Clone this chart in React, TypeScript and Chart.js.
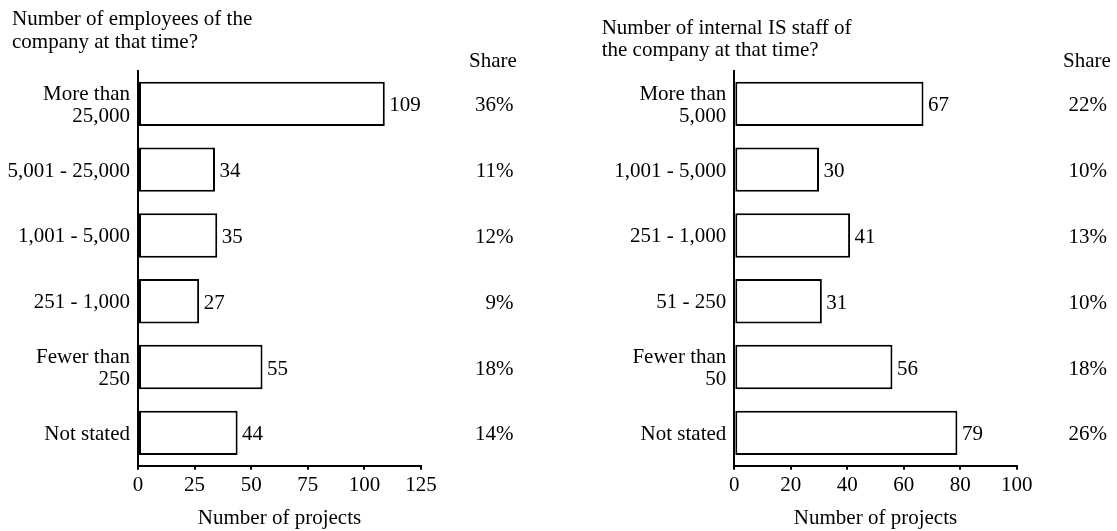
import React, { useEffect, useRef } from 'react';
import { Chart, registerables } from 'chart.js';

Chart.register(...registerables);

const FONT = '"Liberation Serif", "Times New Roman", Times, serif';
const FONT_SIZE = 21;

// Company size (employees)
const employeeTitle = ['Number of employees of the', 'company at that time?'];
const employeeCategories: (string | string[])[] = [
  ['More than', '25,000'],
  '5,001 - 25,000',
  '1,001 - 5,000',
  '251 - 1,000',
  ['Fewer than', '250'],
  'Not stated',
];
const employeeCounts = [109, 34, 35, 27, 55, 44];
const employeeShares = ['36%', '11%', '12%', '9%', '18%', '14%'];

// Internal IS staff
const staffTitle = ['Number of internal IS staff of', 'the company at that time?'];
const staffCategories: (string | string[])[] = [
  ['More than', '5,000'],
  '1,001 - 5,000',
  '251 - 1,000',
  '51 - 250',
  ['Fewer than', '50'],
  'Not stated',
];
const staffCounts = [67, 30, 41, 31, 56, 79];
const staffShares = ['22%', '10%', '13%', '10%', '18%', '26%'];

const shareHeader = 'Share';
const xAxisTitle = 'Number of projects';

const HEIGHT = 531;
const PLOT_TOP = 71;
const PLOT_BOTTOM = 465.7;

type PanelProps = {
  left: number;
  width: number;
  title: string[];
  titleX: number;
  titleY: number;
  categories: (string | string[])[];
  counts: number[];
  shares: string[];
  max: number;
  step: number;
  axisX: number;
  plotRight: number;
  shareRight: number;
  shareHeaderX: number;
};

function Panel(props: PanelProps) {
  const ref = useRef<HTMLCanvasElement | null>(null);

  useEffect(() => {
    const canvas = ref.current;
    if (!canvas) return;
    const font = { family: FONT, size: FONT_SIZE, lineHeight: 1.08 };

    const annotate = {
      id: 'annotate',
      afterDatasetsDraw(chart: Chart) {
        const ctx = chart.ctx;
        ctx.save();
        ctx.fillStyle = '#000';
        ctx.font = `${FONT_SIZE}px ${FONT}`;
        ctx.textBaseline = 'alphabetic';

        // question heading
        ctx.textAlign = 'left';
        props.title.forEach((line, i) => {
          ctx.fillText(line, props.titleX, props.titleY + i * 22.5);
        });

        // share column heading
        ctx.textAlign = 'center';
        ctx.fillText(shareHeader, props.shareHeaderX, 67);

        const meta = chart.getDatasetMeta(0);
        meta.data.forEach((bar: any, i: number) => {
          ctx.textAlign = 'left';
          ctx.fillText(String(props.counts[i]), bar.x + 4.5, bar.y + 7.5);
          ctx.textAlign = 'right';
          ctx.fillText(props.shares[i], props.shareRight, bar.y + 7.5);
        });
        ctx.restore();
      },
    };

    const chart = new Chart(canvas, {
      type: 'bar',
      data: {
        labels: props.categories,
        datasets: [
          {
            data: props.counts,
            backgroundColor: '#ffffff',
            borderColor: '#000000',
            borderWidth: 2,
            borderSkipped: false,
            categoryPercentage: 1,
            barPercentage: 0.674,
          },
        ],
      },
      options: {
        indexAxis: 'y',
        responsive: false,
        animation: false,
        events: [],
        layout: {
          padding: { left: 0, top: PLOT_TOP, right: props.width - props.plotRight, bottom: 0 },
        },
        plugins: {
          legend: { display: false },
          tooltip: { enabled: false },
          title: { display: false },
        },
        scales: {
          x: {
            type: 'linear',
            min: 0,
            max: props.max,
            ticks: {
              stepSize: props.step,
              color: '#000',
              font,
              padding: 4.5,
              maxRotation: 0,
              autoSkip: false,
            },
            grid: {
              drawOnChartArea: false,
              drawTicks: true,
              tickLength: 4,
              color: '#000',
              lineWidth: 2,
            },
            border: { display: true, color: '#000', width: 2 },
            title: {
              display: true,
              text: xAxisTitle,
              color: '#000',
              font,
              padding: { top: 0, bottom: 1.5 },
            },
            afterFit: (scale: any) => {
              scale.height = HEIGHT - PLOT_BOTTOM;
            },
          },
          y: {
            ticks: { color: '#000', font, padding: 8, autoSkip: false, labelOffset: 1.5 },
            grid: { display: false, drawTicks: false },
            border: { display: true, color: '#000', width: 2 },
            afterFit: (scale: any) => {
              scale.width = props.axisX;
            },
          },
        },
      },
      plugins: [annotate],
    } as any);

    return () => chart.destroy();
  }, []);

  return (
    <canvas
      ref={ref}
      width={props.width}
      height={HEIGHT}
      style={{ position: 'absolute', left: props.left, top: 0, width: props.width, height: HEIGHT, display: 'block' }}
    />
  );
}

export default function App() {
  return (
    <div
      style={{
        position: 'absolute',
        left: 0,
        top: 0,
        width: 1117,
        height: HEIGHT,
        background: '#fff',
        overflow: 'hidden',
      }}
    >
      <Panel
        left={0}
        width={560}
        title={employeeTitle}
        titleX={12}
        titleY={25}
        categories={employeeCategories}
        counts={employeeCounts}
        shares={employeeShares}
        max={125}
        step={25}
        axisX={138}
        plotRight={421}
        shareRight={513.5}
        shareHeaderX={493}
      />
      <Panel
        left={560}
        width={557}
        title={staffTitle}
        titleX={41.7}
        titleY={33.5}
        categories={staffCategories}
        counts={staffCounts}
        shares={staffShares}
        max={100}
        step={20}
        axisX={174.3}
        plotRight={456.7}
        shareRight={547}
        shareHeaderX={527}
      />
    </div>
  );
}
